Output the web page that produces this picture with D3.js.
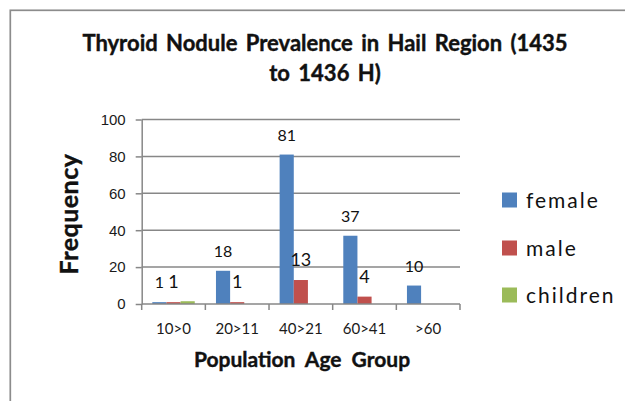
<!DOCTYPE html>
<html>
<head>
<meta charset="utf-8">
<script src="https://cdn.jsdelivr.net/npm/d3@7"></script>
<style>
  body { margin: 0; background: #fff; }
  svg { display: block; font-family: Lato, "Open Sans", sans-serif; }
  .grid line { stroke: #878787; stroke-width: 1.5; }
  .axis path, .axis line { stroke: #878787; stroke-width: 1.5; }
  .axis text { font-size: 15px; fill: #1a1a1a; }
  .bold { font-weight: bold; fill: #111; stroke: #111; stroke-width: 0.4px; }
</style>
</head>
<body>
<script>
// Chart data
var groups = ["10>0", "20>11", "40>21", "60>41", ">60"];
var seriesNames = ["female", "male", "children"];
var female = [1, 18, 81, 37, 10];
var male = [1, 1, 13, 4, 0];
var children = [1.5, 0, 0, 0, 0];
var femaleLabels = ["1", "18", "81", "37", "10"];
var maleLabels = ["1", "1", "13", "4", ""];
var yTicks = [0, 20, 40, 60, 80, 100];
var colors = ["#4f81bd", "#c0504d", "#9bbb59"];

var W = 625, H = 401;
var margin = {top: 119.5, right: 165, bottom: 97, left: 141.7},
    width = W - margin.left - margin.right,
    height = H - margin.top - margin.bottom;

var svg = d3.select("body").append("svg")
    .attr("width", W)
    .attr("height", H);

// outer frame (runs off the right and bottom)
svg.append("rect")
    .attr("x", 10.3).attr("y", 10.3)
    .attr("width", 700).attr("height", 500)
    .attr("fill", "none")
    .attr("stroke", "#8c8c8c")
    .attr("stroke-width", 1.7);

var chart = svg.append("g")
    .attr("transform", "translate(" + margin.left + "," + margin.top + ")");

// Scales
var x0 = d3.scaleBand().domain(groups).range([0, width]);
var x1 = d3.scaleBand().domain(seriesNames).range([0, x0.bandwidth()])
    .paddingInner(0).paddingOuter(0.75);
var y = d3.scaleLinear().domain([0, 100]).range([height, 0]);

// gridlines
chart.append("g")
    .attr("class", "grid")
  .selectAll("line")
    .data(yTicks.slice(1))
  .enter().append("line")
    .attr("x1", 0).attr("x2", width)
    .attr("y1", function(d) { return y(d); })
    .attr("y2", function(d) { return y(d); });

// y axis
var yAxis = chart.append("g")
    .attr("class", "axis")
    .call(d3.axisLeft(y).tickValues(yTicks).tickSize(6).tickSizeOuter(0).tickPadding(10));

// bars
var table = groups.map(function(g, i) {
  return {group: g, values: [
    {key: "female", v: female[i], label: femaleLabels[i]},
    {key: "male", v: male[i], label: maleLabels[i]},
    {key: "children", v: children[i], label: ""}
  ]};
});

var gs = chart.selectAll(".grp")
    .data(table)
  .enter().append("g")
    .attr("class", "grp")
    .attr("transform", function(d) { return "translate(" + x0(d.group) + ",0)"; });

gs.selectAll("rect")
    .data(function(d) { return d.values.filter(function(e) { return e.v > 0; }); })
  .enter().append("rect")
    .attr("x", function(d) { return x1(d.key); })
    .attr("width", x1.bandwidth())
    .attr("y", function(d) { return y(d.v); })
    .attr("height", function(d) { return height - y(d.v); })
    .attr("fill", function(d) { return colors[seriesNames.indexOf(d.key)]; });

// data labels
gs.selectAll("text.lbl")
    .data(function(d) { return d.values.filter(function(e) { return e.label !== ""; }); })
  .enter().append("text")
    .attr("class", "lbl")
    .attr("text-anchor", "middle")
    .attr("x", function(d) { return x1(d.key) + x1.bandwidth() / 2; })
    .attr("y", function(d) { return y(d.v) - 14; })
    .style("font-size", function(d) { return d.key == "male" ? "18px" : "16px"; })
    .style("fill", "#111")
    .text(function(d) { return d.label; });

// x axis with ticks at group boundaries
var xAxis = chart.append("g")
    .attr("class", "axis")
    .attr("transform", "translate(0," + height + ")");
xAxis.append("line").attr("x1", 0).attr("x2", width);
xAxis.selectAll("line.tk")
    .data(groups.concat([null]))
  .enter().append("line")
    .attr("class", "tk")
    .attr("x1", function(d, i) { return i * x0.step(); })
    .attr("x2", function(d, i) { return i * x0.step(); })
    .attr("y1", 0).attr("y2", 6);
xAxis.selectAll("text")
    .data(groups)
  .enter().append("text")
    .attr("x", function(d) { return x0(d) + x0.bandwidth() / 2; })
    .attr("y", 30)
    .attr("text-anchor", "middle")
    .text(function(d) { return d; });

// Titles
var title = svg.append("text")
    .attr("class", "bold")
    .attr("text-anchor", "middle")
    .style("font-size", "22px")
    .style("word-spacing", "3px");
title.append("tspan").attr("x", 325).attr("y", 51).text("Thyroid Nodule Prevalence in Hail Region (1435");
title.append("tspan").attr("x", 325).attr("y", 81).text("to 1436 H)");

svg.append("text")
    .attr("class", "bold")
    .attr("text-anchor", "middle")
    .attr("transform", "translate(78,214)rotate(-90)")
    .style("font-size", "25px")
    .style("letter-spacing", "0.5px")
    .text("Frequency");

svg.append("text")
    .attr("class", "bold")
    .attr("text-anchor", "middle")
    .attr("x", 302).attr("y", 367)
    .style("font-size", "21px")
    .style("word-spacing", "5px")
    .text("Population Age Group");

// Legend
var legend = svg.selectAll(".legend")
    .data(seriesNames)
  .enter().append("g")
    .attr("class", "legend")
    .attr("transform", function(d, i) { return "translate(502," + [200, 248, 295][i] + ")"; });

legend.append("rect")
    .attr("x", 0).attr("y", -7.5)
    .attr("width", 15).attr("height", 15)
    .attr("fill", function(d, i) { return colors[i]; });

legend.append("text")
    .attr("x", 24).attr("y", 8)
    .style("font-size", "21px")
    .style("letter-spacing", "2px")
    .style("fill", "#111")
    .text(function(d) { return d; });
</script>
</body>
</html>
